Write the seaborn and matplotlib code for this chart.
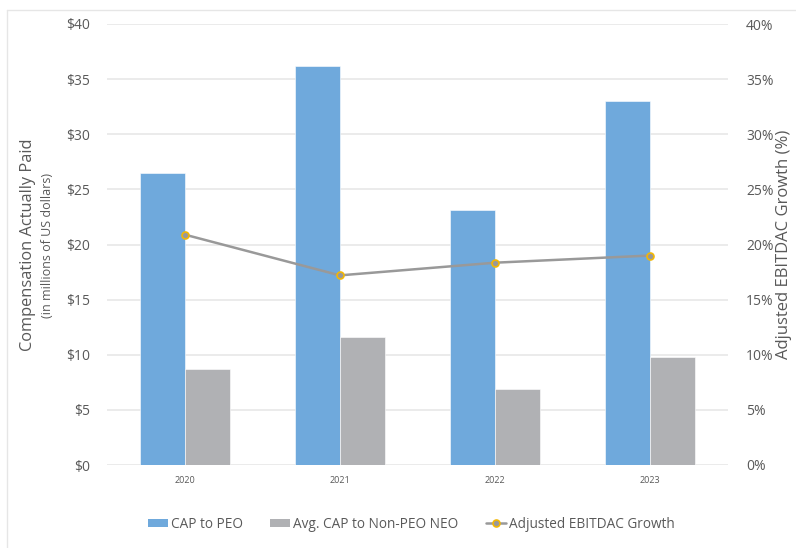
import matplotlib
matplotlib.use("Agg")
import matplotlib.pyplot as plt
import seaborn as sns
import pandas as pd
import numpy as np
from matplotlib.patches import Patch
from matplotlib.lines import Line2D
from matplotlib.ticker import FuncFormatter, MultipleLocator

years = ["2020", "2021", "2022", "2023"]
cap_peo = [26.45, 36.15, 23.15, 33.03]
cap_neo = [8.68, 11.6, 6.9, 9.76]
ebitdac_growth = [20.9, 17.2, 18.35, 19.0]
series_names = ["CAP to PEO", "Avg. CAP to Non-PEO NEO", "Adjusted EBITDAC Growth"]

blue = "#6FA9DC"
grey = "#B0B1B4"
line_c = "#999999"
marker_edge = "#F2B705"
text_c = "#595959"

sns.set_theme(style="white")
plt.rcParams["font.family"] = ["Open Sans", "DejaVu Sans"]

df = pd.DataFrame({
    "year": years * 2,
    "value": cap_peo + cap_neo,
    "series": [series_names[0]] * 4 + [series_names[1]] * 4,
})
dfl = pd.DataFrame({"year": years, "growth": ebitdac_growth})

fig = plt.figure(figsize=(7.96, 5.48), dpi=100)
border_kw = dict(transform=fig.transFigure, color="#E6E6E6", linewidth=1, zorder=0)
fig.add_artist(Line2D([7 / 796, 1], [1 - 10 / 548, 1 - 10 / 548], **border_kw))
fig.add_artist(Line2D([7 / 796, 7 / 796], [0, 1 - 10 / 548], **border_kw))
ax = fig.add_axes([107 / 796, 1 - 465 / 548, (728 - 107) / 796, (465 - 24) / 548])

sns.barplot(data=df, x="year", y="value", hue="series", order=years,
            hue_order=series_names[:2], palette=[blue, grey], width=0.58, gap=0,
            saturation=1, ax=ax, legend=False, edgecolor="#FFFFFF", linewidth=0.4)

ax.set_ylim(0, 40)
ax.yaxis.set_major_locator(MultipleLocator(5))
ax.yaxis.set_major_formatter(FuncFormatter(lambda v, p: f"${v:.0f}"))
ax.grid(axis="y", color="#E8E8E8", linewidth=1.2)
ax.set_axisbelow(True)
for s in ax.spines.values():
    s.set_visible(False)
ax.tick_params(axis="y", length=0, pad=12, labelsize=10, labelcolor=text_c)
ax.tick_params(axis="x", length=0, pad=8, labelsize=6.5, labelcolor=text_c)
ax.set_xlabel("")
ax.set_ylabel("")

ax2 = ax.twinx()
sns.pointplot(data=dfl, x="year", y="growth", order=years, ax=ax2, color=line_c,
              errorbar=None, markers="o", linewidth=1.8,
              markersize=5, markeredgecolor=marker_edge, markerfacecolor=line_c,
              markeredgewidth=1.2)
ax2.set_ylim(0, 40)
ax2.yaxis.set_major_locator(MultipleLocator(5))
ax2.yaxis.set_major_formatter(FuncFormatter(lambda v, p: f"{v:.0f}%"))
for s in ax2.spines.values():
    s.set_visible(False)
ax2.tick_params(axis="y", length=0, pad=13, labelsize=10, labelcolor=text_c)
ax2.set_ylabel("")
ax2.set_xlabel("")
ax2.grid(False)

fig.text(28 / 796, 1 - 245 / 548, "Compensation Actually Paid", rotation=90,
         ha="center", va="center", fontsize=11.8, color=text_c)
fig.text(48 / 796, 1 - 245 / 548, "(in millions of US dollars)", rotation=90,
         ha="center", va="center", fontsize=9, color=text_c)
fig.text(784 / 796, 1 - 244 / 548, "Adjusted EBITDAC Growth (%)", rotation=90,
         ha="center", va="center", fontsize=12, color=text_c)

handles = [
    Patch(facecolor=blue, edgecolor="none"),
    Patch(facecolor=grey, edgecolor="none"),
    Line2D([0], [0], color=line_c, linewidth=1.8, marker="o", markersize=5,
           markerfacecolor=line_c, markeredgecolor=marker_edge, markeredgewidth=1.2),
]
fig.legend(handles, series_names, loc="center", bbox_to_anchor=(411 / 796, 1 - 524 / 548),
           ncol=3, frameon=False, fontsize=9.8, labelcolor=text_c, handlelength=1.5,
           handleheight=0.55, handletextpad=0.2, columnspacing=2.0)

fig.savefig("out.png", dpi=100)
